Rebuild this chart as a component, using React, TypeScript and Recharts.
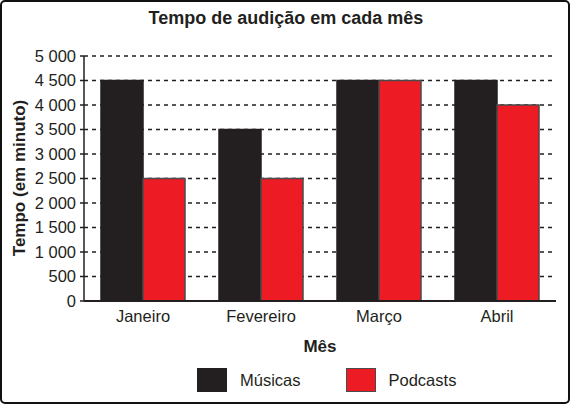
import { Bar, BarChart, CartesianGrid, XAxis, YAxis } from "recharts"

// Months and listening time (minutes)
const months = ["Janeiro", "Fevereiro", "Março", "Abril"]
const musicas = [4500, 3500, 4500, 4500]
const podcasts = [2500, 2500, 4500, 4000]
const yTicks = [0, 500, 1000, 1500, 2000, 2500, 3000, 3500, 4000, 4500, 5000]

const series = [
  { key: "musicas", name: "Músicas", fill: "#231f20", stroke: "#231f20" },
  { key: "podcasts", name: "Podcasts", fill: "#ed1c24", stroke: "#4a4a4a" },
]

const data = months.map((month, i) => ({
  month,
  musicas: musicas[i],
  podcasts: podcasts[i],
}))

const ink = "#231f20"
const font = "'Liberation Sans', Arial, sans-serif"

const formatTick = (v: number) =>
  v >= 1000 ? `${Math.floor(v / 1000)} ${String(v % 1000).padStart(3, "0")}` : String(v)

export default function App() {
  return (
    <div
      style={{
        position: "absolute",
        left: 0,
        top: 0,
        width: 572,
        height: 405,
        background: "#fff",
        fontFamily: font,
      }}
    >
      <BarChart
        width={572}
        height={405}
        data={data}
        margin={{ top: 56, right: 16, left: 0, bottom: 74 }}
        barCategoryGap={17}
        barGap={0}
      >
        <CartesianGrid vertical={false} stroke={ink} strokeWidth={1.3} strokeDasharray="4 4" />
        <XAxis
          dataKey="month"
          height={30}
          tickSize={0}
          tickMargin={9}
          axisLine={{ stroke: ink, strokeWidth: 2 }}
          tick={{ fill: ink, fontSize: 16.5, fontFamily: font }}
          label={{
            content: () => (
              <text x={320} y={352} textAnchor="middle" fill={ink} fontSize={17} fontWeight="bold" fontFamily={font}>
                Mês
              </text>
            ),
          }}
        />
        <YAxis
          width={84}
          domain={[0, 5000]}
          ticks={yTicks}
          interval={0}
          tickSize={4}
          tickMargin={4}
          tickFormatter={formatTick}
          axisLine={{ stroke: ink, strokeWidth: 1.5 }}
          tickLine={{ stroke: ink, strokeWidth: 1.5 }}
          tick={{ fill: ink, fontSize: 16.5, fontFamily: font }}
          label={{
            content: () => (
              <text
                x={25}
                y={178}
                transform="rotate(-90 25 178)"
                textAnchor="middle"
                fill={ink}
                fontSize={17}
                fontWeight="bold"
                fontFamily={font}
              >
                Tempo (em minuto)
              </text>
            ),
          }}
        />
        {series.map((s) => (
          <Bar
            key={s.key}
            dataKey={s.key}
            name={s.name}
            fill={s.fill}
            stroke={s.stroke}
            strokeWidth={1.5}
            barSize={42}
            isAnimationActive={false}
          />
        ))}
      </BarChart>

      <svg width={572} height={405} style={{ position: "absolute", left: 0, top: 0, pointerEvents: "none" }}>
        <rect x={1} y={1} width={568} height={402} rx={4} fill="none" stroke="#111" strokeWidth={2} />
        <text x={286} y={24} textAnchor="middle" fill={ink} fontSize={18} fontWeight="bold" fontFamily={font}>
          Tempo de audição em cada mês
        </text>
      </svg>

      <div style={{ position: "absolute", top: 368, left: 197, display: "flex", alignItems: "center" }}>
        {series.map((s, i) => (
          <div key={s.key} style={{ display: "flex", alignItems: "center", marginLeft: i === 0 ? 0 : 45 }}>
            <div
              style={{
                width: 30,
                height: 24,
                boxSizing: "border-box",
                background: s.fill,
                border: `1.5px solid ${s.stroke}`,
              }}
            />
            <span style={{ marginLeft: 13, fontSize: 16.5, color: ink, lineHeight: "24px" }}>{s.name}</span>
          </div>
        ))}
      </div>
    </div>
  )
}
